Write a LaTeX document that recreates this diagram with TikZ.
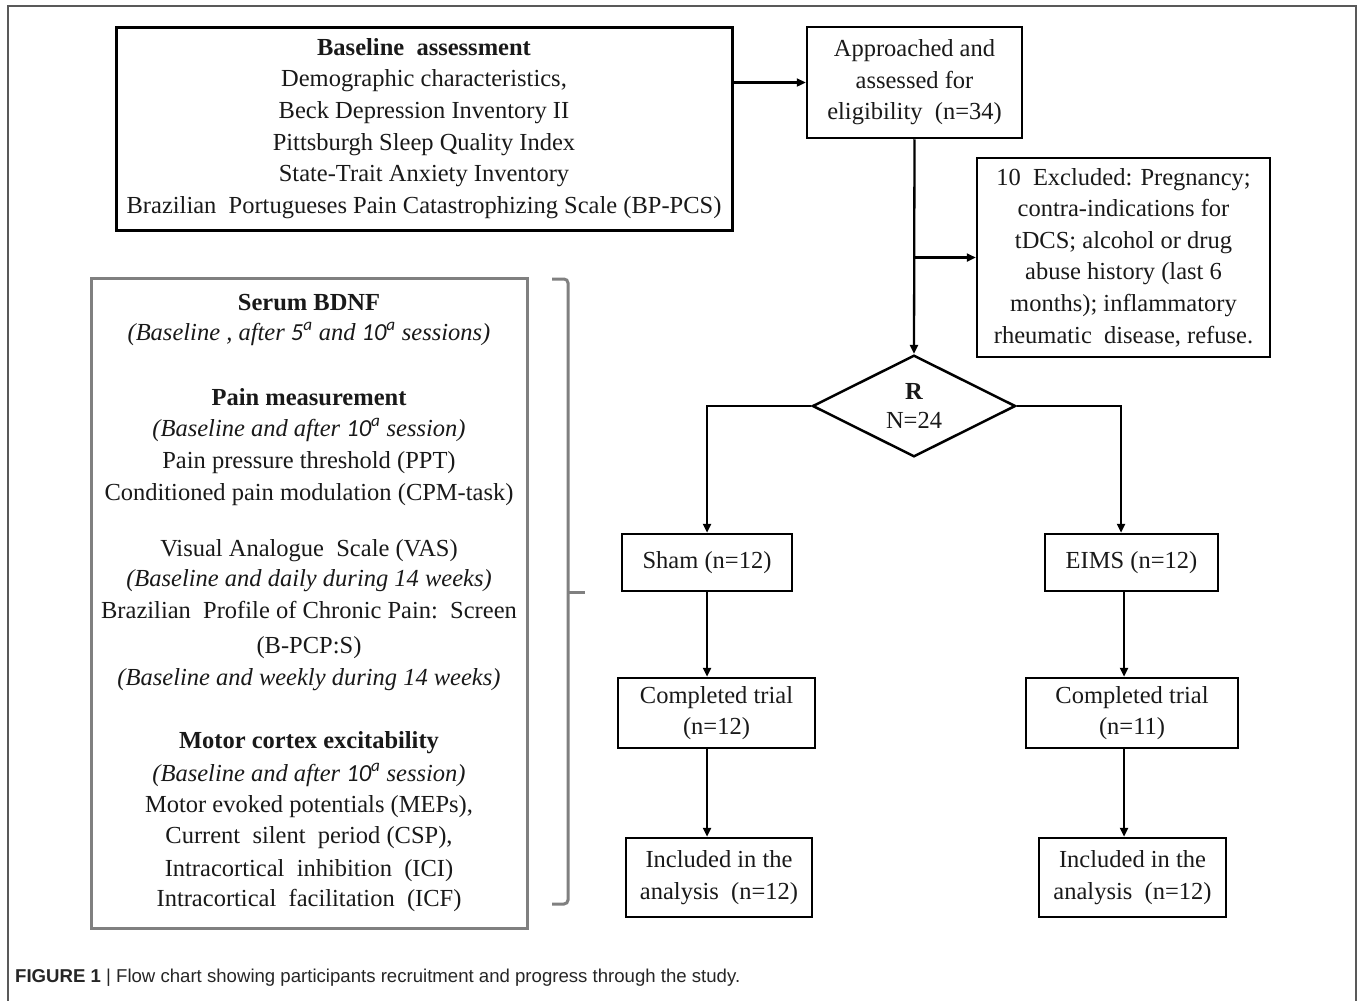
\documentclass[tikz,border=0pt]{standalone}
\usepackage{fontspec}
\setmainfont{Liberation Serif}
\newfontfamily\capfont{Liberation Sans}
\newfontfamily\numfont{Carlito}
\usetikzlibrary{shapes.geometric,arrows.meta,calc}
\newcommand{\ordnum}[1]{{\numfont\itshape #1\textsuperscript{a}}}
\begin{document}
\begin{tikzpicture}[x=1pt,y=-1pt,
  every node/.style={font=\fontsize{24.5}{31.6}\selectfont, text=black!90},
  fbox/.style={draw=black, line width=2.5pt, inner sep=0pt, align=center},
  arr/.style={-{Triangle[length=9pt,width=8pt]}, line width=2.3pt},
  greyline/.style={draw=black!50, line width=3pt}]

\useasboundingbox (0,0) rectangle (1360,1001);
\fill[white] (0,0) rectangle (1360,1001);
\draw[black!65, line width=1.5pt] (8,1001) -- (8,6) -- (1356,6) -- (1356,1001);

% boxes
\node[fbox, line width=3pt, minimum width=616pt, minimum height=203pt] (base) at (424,128.5)
  {\textbf{Baseline\ \ assessment}\\Demographic characteristics,\\Beck Depression Inventory II\\Pittsburgh Sleep Quality\ Index\\State-Trait Anxiety Inventory\\Brazilian\ \ Portugueses Pain Catastrophizing Scale (BP-PCS)};
\node[fbox, minimum width=215pt, minimum height=111pt] (appr) at (914.5,82.5)
  {Approached and\\assessed for\\eligibility\ \ (n=34)};
\node[fbox, minimum width=293pt, minimum height=199pt] (excl) at (1123.5,257.5)
  {10\ \ Excluded: Pregnancy;\\contra-indications\ for\\tDCS; alcohol or drug\\abuse history (last 6\\months); inflammatory\\rheumatic\ \ disease, refuse.};
\node[draw=black, line width=2.5pt, diamond, minimum width=203pt, minimum height=97pt, inner sep=0pt, align=center] (rand) at (914,406)
  {\textbf{R}\\[-2pt]N=24};
\node[fbox, minimum width=170pt, minimum height=57pt] (sham) at (707,562.5) {Sham (n=12)};
\node[fbox, minimum width=173pt, minimum height=57pt] (eims) at (1131.5,562.5) {EIMS (n=12)};
\node[fbox, minimum width=197pt, minimum height=70pt] (complL) at (716.5,713) {Completed trial\\(n=12)};
\node[fbox, minimum width=212pt, minimum height=70pt] (complR) at (1132,713) {Completed trial\\(n=11)};
\node[fbox, minimum width=186pt, minimum height=79pt] (inclL) at (719,877.5) {Included in the\\analysis\ \ (n=12)};
\node[fbox, minimum width=187pt, minimum height=79pt] (inclR) at (1132.5,877.5) {Included in the\\analysis\ \ (n=12)};

% measurement box
\node[draw=black!50, line width=3pt, minimum width=436pt, minimum height=650pt, inner sep=0pt] (meas) at (309,603) {};
\foreach \yy/\tt [count=\i] in {
  302/{\textbf{Serum BDNF}},
  332/{\textit{(Baseline , after \ordnum{5} and \ordnum{10} sessions)}},
  397/{\textbf{Pain measurement}},
  428/{\textit{(Baseline and after \ordnum{10} session)}},
  460/{Pain pressure threshold (PPT)},
  492/{Conditioned pain modulation (CPM-task)},
  548/{Visual Analogue\ \ Scale (VAS)},
  578/{\textit{(Baseline and daily during 14 weeks)}},
  610/{Brazilian\ \ Profile\ of Chronic Pain:\ \ Screen},
  645/{(B-PCP:S)},
  677/{\textit{(Baseline and weekly during 14 weeks)}},
  740/{\textbf{Motor cortex excitability}},
  773/{\textit{(Baseline and after \ordnum{10} session)}},
  804/{Motor evoked potentials (MEPs),},
  835/{Current\ \ silent\ \ period (CSP),},
  868/{Intracortical\ \ inhibition\ \ (ICI)},
  898/{Intracortical\ \ facilitation\ \ (ICF)}}
  \node[anchor=base, inner sep=0pt] (mline\i) at (309,{\yy+8}) {\tt};

% bracket
\draw[greyline, rounded corners=4pt] (552,279) -- (568,279) -- (568,904) -- (552,904);
\draw[greyline] (568,592) -- (585,592);

% connectors
\coordinate (colL) at (707,0);
\coordinate (colR) at (1121,0);
\coordinate (colR2) at (1124,0);
\draw[arr] (base.east |- appr.west) -- (appr.west);
\draw[arr] (appr.south) -- (rand.north);
\coordinate (br) at (appr.south |- excl.west);
\draw[arr] (br) -- (excl.west);
\draw[arr] (rand.west) -| (colL |- sham.north);
\draw[arr] (rand.east) -| (colR |- eims.north);
\draw[arr] (colL |- sham.south) -- (colL |- complL.north);
\draw[arr] (colL |- complL.south) -- (colL |- inclL.north);
\draw[arr] (colR2 |- eims.south) -- (colR2 |- complR.north);
\draw[arr] (colR2 |- complR.south) -- (colR2 |- inclR.north);

% caption
\node[anchor=base west, inner sep=0pt, font=\capfont\fontsize{18.6}{22}\selectfont, text=black!85] (cap) at (15,982)
  {\textbf{FIGURE 1} | Flow chart showing participants recruitment and progress through the study.};
\end{tikzpicture}
\end{document}
